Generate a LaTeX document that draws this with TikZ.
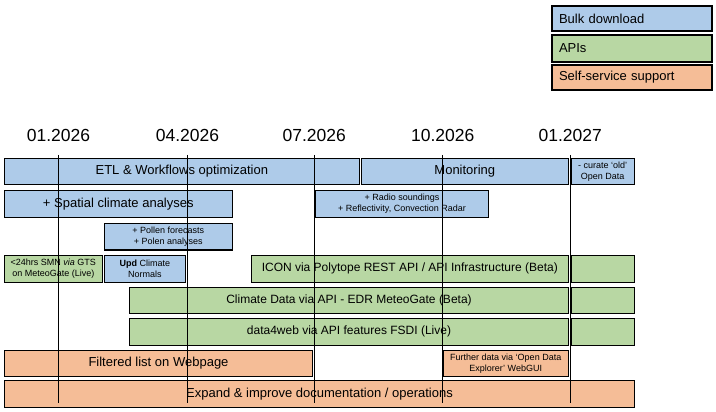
\documentclass[tikz,border=0pt]{standalone}
\usepackage{fontspec}
\setmainfont{Liberation Sans}
\definecolor{bulkblue}{HTML}{AECBE9}
\definecolor{apigreen}{HTML}{B8D7A3}
\definecolor{selforange}{HTML}{F5BD97}
\tikzset{
  bx/.style={draw=black, line width=1.3pt, inner sep=1pt, outer sep=0pt, align=center},
  blu/.style={bx, fill=bulkblue},
  grn/.style={bx, fill=apigreen},
  org/.style={bx, fill=selforange},
  big/.style={font=\fontsize{13}{15.6}\selectfont},
  mid/.style={font=\fontsize{12}{14.4}\selectfont},
  sml/.style={font=\fontsize{9}{10.8}\selectfont},
  datelbl/.style={font=\fontsize{17.5}{21}\selectfont, inner sep=0pt},
  vline/.style={draw=black, line width=0.9pt},
  legend/.style={bx, big, text width=146pt, align=left, inner xsep=7pt, minimum width=160pt}
}
\begin{document}
\begin{tikzpicture}[x=1pt,y=-1pt]
\useasboundingbox (0,0) rectangle (716,412);
% legend
\node[legend, fill=bulkblue, minimum height=25pt] (lbulk) at (632,18.5) {Bulk download};
\node[legend, fill=apigreen, minimum height=27pt] (lapi) at (632,48.5) {APIs};
\node[legend, fill=selforange, minimum height=25pt] (lself) at (632,77.5) {Self-service support};
% dates
\node[datelbl] (d1) at (58.5,135) {01.2026};
\node[datelbl] (d2) at (187.5,135) {04.2026};
\node[datelbl] (d3) at (314.3,135) {07.2026};
\node[datelbl] (d4) at (442.7,135) {10.2026};
\node[datelbl] (d5) at (570.3,135) {01.2027};
% bulk download
\node[blu, big, minimum width=355pt, minimum height=26pt] (etl) at (181.8,171.3) {ETL \& Workflows optimization};
\node[blu, big, minimum width=207pt, minimum height=26pt] (mon) at (464.8,171.3) {Monitoring};
\node[blu, sml, minimum width=63.3pt, minimum height=26pt] (cur) at (602.65,171.3) {- curate ‘old’\\Open Data};
\node[blu, big, minimum width=228pt, minimum height=26.6pt] (spat) at (118.3,204) {+ Spatial climate analyses};
\node[blu, sml, minimum width=173.4pt, minimum height=26.6pt] (radio) at (402,204) {+ Radio soundings\\+ Reflectivity, Convection Radar};
\node[blu, sml, minimum width=128pt, minimum height=26.7pt] (pollen) at (168.3,236.65) {+ Pollen forecasts\\+ Polen analyses};
\node[grn, sml, minimum width=98pt, minimum height=27pt] (smn) at (53.3,268.8) {<24hrs SMN \textit{via} GTS\\on MeteoGate (Live)};
\node[blu, sml, minimum width=81pt, minimum height=27pt] (upd) at (144.8,268.8) {\textbf{Upd} Climate\\Normals};
% APIs
\node[grn, mid, minimum width=317pt, minimum height=27pt] (icon) at (409.8,268.8) {ICON via Polytope REST API / API Infrastructure (Beta)};
\node[grn, minimum width=63.3pt, minimum height=27pt] (g1) at (602.65,268.8) {};
\node[grn, mid, minimum width=439pt, minimum height=26pt] (clim) at (349,300.3) {Climate Data via API - EDR MeteoGate (Beta)};
\node[grn, minimum width=63.5pt, minimum height=26pt] (g2) at (602.75,300.3) {};
\node[grn, mid, minimum width=439pt, minimum height=27pt] (d4w) at (349,331.8) {data4web via API features FSDI (Live)};
\node[grn, minimum width=63.5pt, minimum height=27pt] (g3) at (602.75,331.8) {};
% self-service
\node[org, big, minimum width=308pt, minimum height=26pt] (filt) at (158.5,363.3) {Filtered list on Webpage};
\node[org, sml, minimum width=125.5pt, minimum height=26pt] (furth) at (505.75,363.3) {Further data via ‘Open Data\\Explorer’ WebGUI};
\node[org, big, minimum width=630pt, minimum height=27pt] (exp) at (319.5,393.8) {Expand \& improve documentation / operations};
% timeline markers
\foreach \i/\xx in {1/58.5,2/187.5,3/314.3,4/442.7,5/570.3}{
  \coordinate (t\i) at (\xx,155);
  \coordinate (b\i) at (\xx,403);
}
\foreach \i in {1,...,5}{\draw[vline] (t\i) -- (b\i);}
\end{tikzpicture}
\end{document}
